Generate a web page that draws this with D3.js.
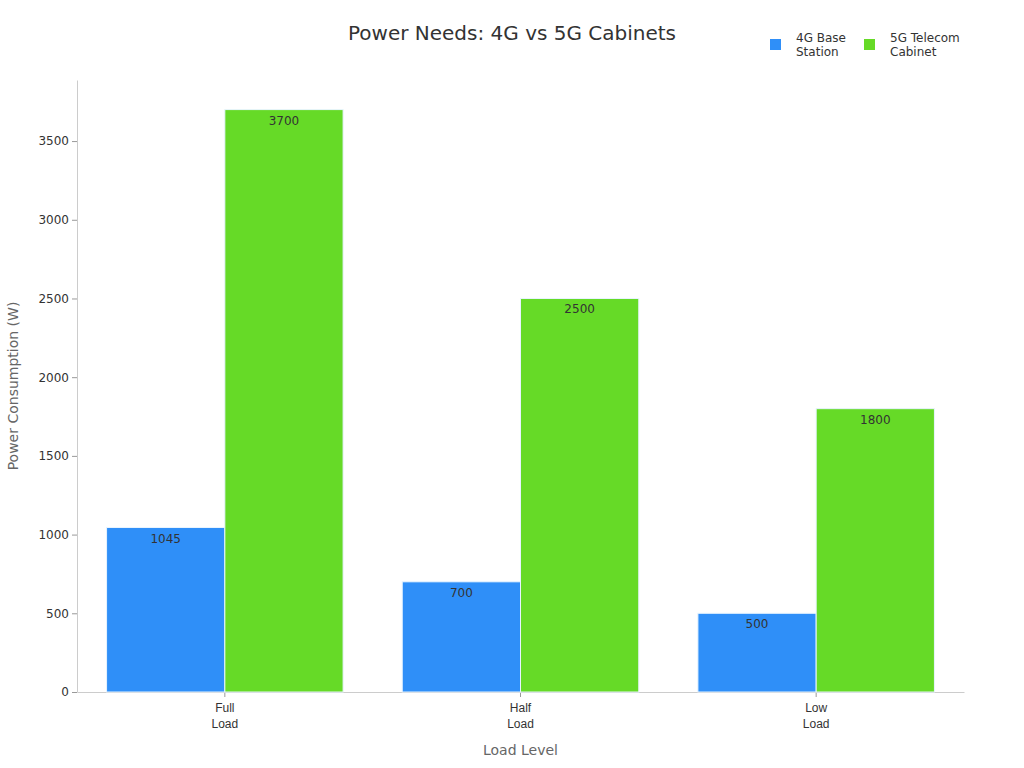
<!DOCTYPE html>
<html lang="en">
<head>
<title>Power Needs: 4G vs 5G Cabinets</title>
<meta charset="utf-8">
<script src="https://d3js.org/d3.v7.min.js"></script>
<style type="text/css">
body {
	margin: 0;
	font-family: "DejaVu Sans", sans-serif;
	background: #fff;
}
</style>
</head>
<body>

<div id="vis"></div>

<script>

/* Data */
/* ==== */

var categories = ['Full\nLoad', 'Half\nLoad', 'Low\nLoad'];
var series = ['4G Base Station', '5G Telecom Cabinet'];
var legendLabels = [['4G Base', 'Station'], ['5G Telecom', 'Cabinet']];
var values4G = [1045, 700, 500];
var values5G = [3700, 2500, 1800];
var yTicks = [0, 500, 1000, 1500, 2000, 2500, 3000, 3500];
var colors = ['#2f8ff8', '#66da27'];


/* Globals and SVG */
/* =============== */

var width = 1024, height = 768;
var margin = { top: 80, right: 60, bottom: 76, left: 77 };

var svg = d3.select('#vis')
	.append('svg')
		.attr('width', width)
		.attr('height', height);

var x0 = d3.scaleBand()
	.domain(categories)
	.range([margin.left, width - margin.right])
	.paddingInner(0.2)
	.paddingOuter(0.1);

var x1 = d3.scaleBand()
	.domain(series)
	.range([0, x0.bandwidth()]);

var y = d3.scaleLinear()
	.domain([0, 3888])
	.range([height - margin.bottom, margin.top]);

var rows = categories.map(function(c, i) {
	return { cat: c, vals: [values4G[i], values5G[i]] };
});


/* Axes */
/* ==== */

var yAxis = svg.append('g')
	.attr('transform', 'translate(' + margin.left + ',0)')
	.call(d3.axisLeft(y).tickValues(yTicks).tickFormat(d3.format('d'))
		.tickSizeInner(5).tickSizeOuter(0).tickPadding(3));

var xAxis = svg.append('g')
	.attr('transform', 'translate(0,' + (height - margin.bottom) + ')')
	.call(d3.axisBottom(x0).tickSizeInner(5).tickSizeOuter(0).tickFormat(''));

[yAxis, xAxis].forEach(function(a) {
	a.select('.domain').attr('stroke', '#ccc');
	a.selectAll('.tick line').attr('stroke', '#999');
	a.selectAll('.tick text')
		.attr('fill', '#333')
		.style('font-family', '"DejaVu Sans", sans-serif')
		.style('font-size', '12px');
});

// two-line category labels
xAxis.selectAll('.tick').each(function(d) {
	var t = d3.select(this).append('text')
		.attr('fill', '#333')
		.attr('text-anchor', 'middle')
		.style('font-size', '12px')
		.attr('y', 20);
	d.split('\n').forEach(function(line, i) {
		t.append('tspan')
			.attr('x', 0)
			.attr('dy', i === 0 ? 0 : 16)
			.text(line);
	});
});


/* Bars */
/* ==== */

var groups = svg.append('g')
	.selectAll('g')
	.data(rows)
	.join('g')
		.attr('transform', function(d) { return 'translate(' + x0(d.cat) + ',0)'; });

groups.selectAll('rect')
	.data(function(d) { return d.vals.map(function(v, i) { return { key: series[i], value: v, i: i }; }); })
	.join('rect')
		.attr('x', function(d) { return x1(d.key); })
		.attr('y', function(d) { return y(d.value); })
		.attr('width', x1.bandwidth())
		.attr('height', function(d) { return y(0) - y(d.value); })
		.attr('fill', function(d) { return colors[d.i]; })
		.attr('stroke', '#e8f4ff')
		.attr('stroke-width', 1);

groups.selectAll('text.val')
	.data(function(d) { return d.vals.map(function(v, i) { return { key: series[i], value: v }; }); })
	.join('text')
		.attr('class', 'val')
		.attr('x', function(d) { return x1(d.key) + x1.bandwidth() / 2; })
		.attr('y', function(d) { return y(d.value) + 15; })
		.attr('text-anchor', 'middle')
		.attr('fill', '#333')
		.style('font-size', '12px')
		.text(function(d) { return d.value; });


/* Titles */
/* ====== */

svg.append('text')
	.attr('x', 512)
	.attr('y', 40)
	.attr('text-anchor', 'middle')
	.attr('fill', '#333')
	.style('font-size', '20px')
	.text('Power Needs: 4G vs 5G Cabinets');

svg.append('text')
	.attr('x', (margin.left + width - margin.right) / 2)
	.attr('y', 755)
	.attr('text-anchor', 'middle')
	.attr('fill', '#666')
	.style('font-size', '14px')
	.text('Load Level');

svg.append('text')
	.attr('transform', 'translate(18,' + ((margin.top + height - margin.bottom) / 2) + ') rotate(-90)')
	.attr('text-anchor', 'middle')
	.attr('fill', '#666')
	.style('font-size', '14px')
	.text('Power Consumption (W)');


/* Legend */
/* ====== */

var legend = svg.append('g')
	.selectAll('g')
	.data(legendLabels)
	.join('g')
		.attr('transform', function(d, i) { return 'translate(' + (770 + i * 94) + ',39)'; });

legend.append('rect')
	.attr('width', 11)
	.attr('height', 11)
	.attr('fill', function(d, i) { return colors[i]; });

legend.append('text')
	.attr('x', 26)
	.attr('y', 3)
	.attr('fill', '#333')
	.style('font-size', '12px')
	.selectAll('tspan')
	.data(function(d) { return d; })
	.join('tspan')
		.attr('x', 26)
		.attr('dy', function(d, i) { return i === 0 ? 0 : 14; })
		.text(function(d) { return d; });

</script>
</body>
</html>
